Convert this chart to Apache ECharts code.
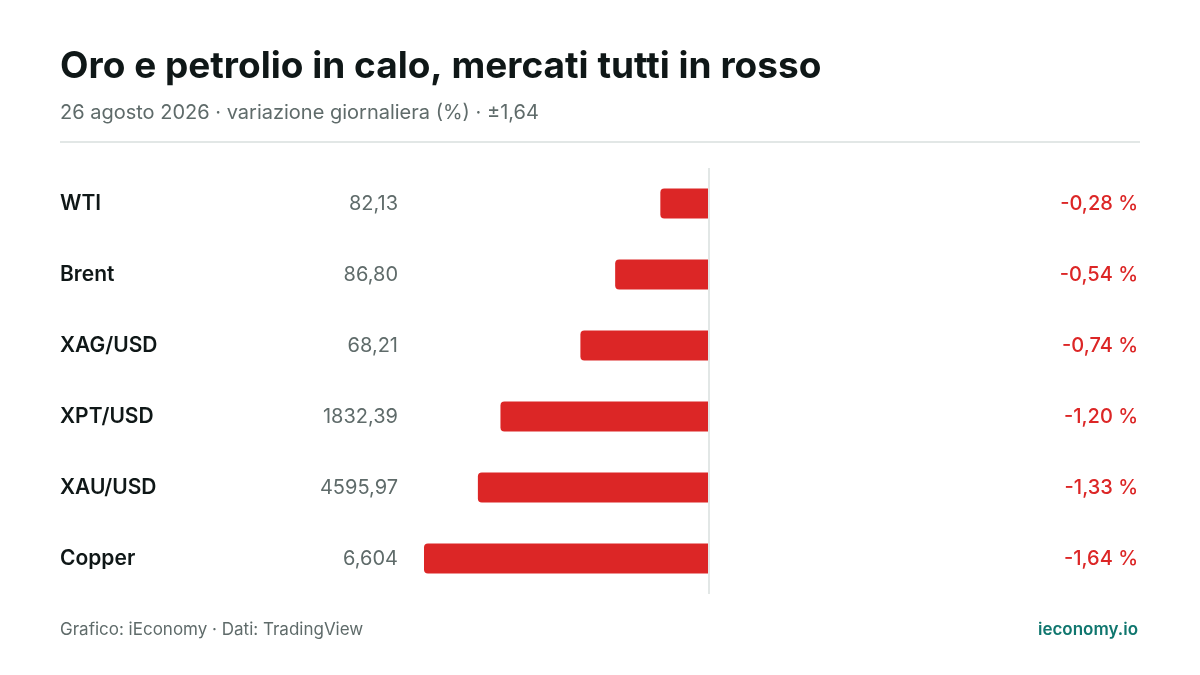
<!DOCTYPE html>
<html><head><meta charset="utf-8">
<script src="https://cdn.jsdelivr.net/npm/echarts@6/dist/echarts.min.js"></script>
<style>html,body{margin:0;padding:0;background:#fff}#c{width:1200px;height:675px}</style>
</head><body><div id="c"></div>
<script>
const categories = ['WTI', 'Brent', 'XAG/USD', 'XPT/USD', 'XAU/USD', 'Copper'];
const prices = ['82,13', '86,80', '68,21', '1832,39', '4595,97', '6,604'];
const changes = [-0.28, -0.54, -0.74, -1.20, -1.33, -1.64];
const axisLimit = 1.64;

const FONT = 'Inter, "Noto Sans", sans-serif';
const RED = '#dc2626';
const fmtPct = v => v.toFixed(2).replace('.', ',') + ' %';

const chart = echarts.init(document.getElementById('c'), null, {renderer: 'canvas'});
chart.setOption({
  animation: false,
  backgroundColor: '#ffffff',
  grid: {left: 424, right: 206, top: 168, height: 426},
  xAxis: {
    type: 'value', min: -axisLimit, max: axisLimit,
    axisLine: {show: false}, axisTick: {show: false}, axisLabel: {show: false}, splitLine: {show: false}
  },
  yAxis: [
    {
      type: 'category', data: categories, inverse: true, position: 'left',
      axisLine: {show: false}, axisTick: {show: false}, splitLine: {show: false},
      axisLabel: {align: 'left', margin: 364, fontFamily: FONT, fontSize: 21, fontWeight: 600, color: '#0f1717'}
    },
    {
      type: 'category', data: prices, inverse: true, position: 'left',
      axisLine: {show: false}, axisTick: {show: false}, splitLine: {show: false},
      axisLabel: {align: 'right', margin: 26, fontFamily: FONT, fontSize: 20, fontWeight: 400, color: '#5f6b6a'}
    },
    {
      type: 'category', data: changes.map(fmtPct), inverse: true, position: 'right',
      axisLine: {show: false}, axisTick: {show: false}, splitLine: {show: false},
      axisLabel: {align: 'right', margin: 144, fontFamily: FONT, fontSize: 20, fontWeight: 500, color: RED}
    }
  ],
  series: [{
    type: 'bar', data: changes, yAxisIndex: 0, barWidth: 30,
    itemStyle: {color: RED, borderRadius: [4, 0, 0, 4]},
    markLine: {
      silent: true, symbol: 'none', label: {show: false},
      lineStyle: {color: '#e2e7e6', width: 2, type: 'solid'},
      data: [{xAxis: 0}]
    }
  }],
  graphic: [
    {type: 'text', left: 60, top: 48, style: {text: 'Oro e petrolio in calo, mercati tutti in rosso', font: '700 37px ' + FONT, fill: '#0f1717'}},
    {type: 'text', left: 60, top: 103, style: {text: '26 agosto 2026 · variazione giornaliera (%) · ±1,64', font: '400 20px ' + FONT, fill: '#5f6b6a'}},
    {type: 'rect', shape: {x: 60, y: 141, width: 1080, height: 2}, style: {fill: '#e2e7e6'}},
    {type: 'text', left: 60, top: 621, style: {text: 'Grafico: iEconomy · Dati: TradingView', font: '400 17px ' + FONT, fill: '#5f6b6a'}},
    {type: 'text', right: 62, top: 621, style: {text: 'ieconomy.io', font: '600 17px ' + FONT, fill: '#0f766e'}}
  ]
});
</script></body></html>
